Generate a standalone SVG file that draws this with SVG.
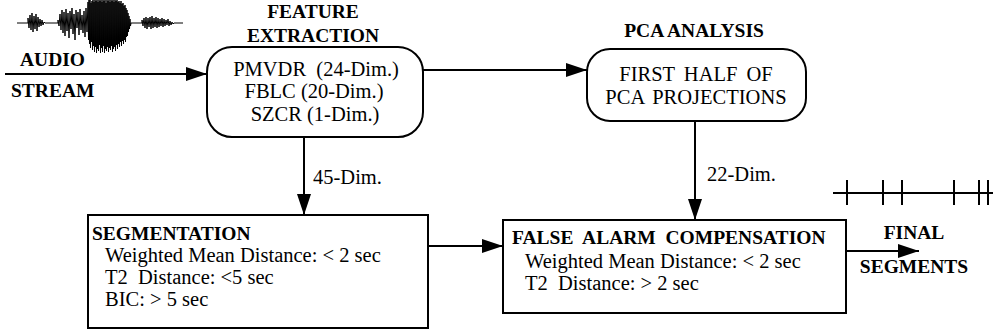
<svg xmlns="http://www.w3.org/2000/svg" width="993" height="334" viewBox="0 0 993 334">
<style>
.reg{font-family:"Liberation Serif","Times New Roman",serif;font-size:20.5px;fill:#000}
.bld{font-family:"Liberation Serif","Times New Roman",serif;font-size:19.5px;font-weight:bold;fill:#000}
.box{fill:#fff;stroke:#000;stroke-width:2}
.ln{fill:none;stroke:#000;stroke-width:2}
.arr{fill:none;stroke:#000;stroke-width:2;marker-end:url(#ah)}
.pre{white-space:pre}
</style>
<defs>
<marker id="ah" markerUnits="userSpaceOnUse" markerWidth="22" markerHeight="16" refX="21" refY="8" orient="auto">
<path d="M0,1 L21,8 L0,15 z" fill="#000"/>
</marker>
</defs>
<rect width="993" height="334" fill="#fff"/>
<g id="audio">
<path fill="none" stroke="#000" stroke-width="1" d="M17,23 L28,23 L28,18 L29,28 L30,15 L31,30 L32,13 L33,32 L34,16 L35,29 L36,14 L37,31 L38,17 L39,27 L40,19 L41,26 L42,20 L43,25 L44,22 L45,23 L58,23 L58,20 L59,26 L60,14 L61,30 L62,10 L63,33 L64,12 L65,36 L66,9 L67,31 L68,13 L69,38 L70,11 L71,29 L72,8 L73,34 L74,14 L75,40 L76,10 L77,28 L78,12 L79,35 L80,9 L81,30 L82,15 L83,33 L84,11 L85,37 L86,8 L87,32 L88,2 L88.5,40 L89,0 L89.5,44 L90,0 L90.5,48 L91,3 L91.5,42 L92,1 L92.5,50 L93,0 L93.5,46 L94,2 L94.5,52 L95,0 L95.5,47 L96,1 L96.5,53 L97,0 L97.5,49 L98,2 L98.5,51 L99,0 L99.5,45 L100,1 L100.5,53 L101,0 L101.5,48 L102,2 L102.5,52 L103,0 L103.5,46 L104,1 L104.5,53 L105,0 L105.5,49 L106,3 L106.5,51 L107,0 L107.5,47 L108,1 L108.5,52 L109,0 L109.5,48 L110,2 L110.5,50 L111,0 L111.5,46 L112,1 L112.5,52 L113,0 L113.5,49 L114,2 L114.5,47 L115,0 L115.5,51 L116,1 L116.5,45 L117,0 L117.5,49 L118,2 L118.5,44 L119,1 L119.5,47 L120,3 L120.5,42 L121,1 L121.5,46 L122,4 L122.5,41 L123,3 L123.5,44 L124,6 L124.5,40 L125,5 L125.5,42 L126,8 L126.5,37 L127,10 L127.5,36 L128,13 L128.5,32 L129,16 L129.5,29 L130,19 L130.5,26 L131,23 L142,23 L142,20 L143,26 L144,18 L145,28 L146,17 L147,29 L148,18 L149,27 L150,17 L151,29 L152,16 L153,28 L154,18 L155,27 L156,17 L157,28 L158,18 L159,27 L160,19 L161,26 L162,18 L163,27 L164,19 L165,26 L166,20 L167,25 L168,19 L169,26 L170,21 L171,25 L172,22 L173,24 L174,23 L183,23"/>
<text class="bld" x="20" y="66">AUDIO</text>
<text class="bld" x="11" y="97">STREAM</text>
</g>
<g id="feature">
<text class="bld" x="313" y="18" text-anchor="middle">FEATURE</text>
<text class="bld" x="313" y="42" text-anchor="middle">EXTRACTION</text>
<rect class="box" x="207" y="47" width="216" height="90" rx="25" ry="25"/>
<text class="reg pre" x="316" y="76" text-anchor="middle">PMVDR  (24-Dim.)</text>
<text class="reg" x="314" y="98" text-anchor="middle">FBLC (20-Dim.)</text>
<text class="reg" x="315" y="121" text-anchor="middle">SZCR (1-Dim.)</text>
</g>
<g id="pca">
<text class="bld" x="694" y="37" text-anchor="middle">PCA ANALYSIS</text>
<rect class="box" x="587" y="49" width="219" height="72" rx="23" ry="23"/>
<text class="reg" x="696" y="81" text-anchor="middle" word-spacing="4">FIRST HALF OF</text>
<text class="reg" x="696" y="104" text-anchor="middle" word-spacing="3">PCA PROJECTIONS</text>
</g>
<g id="segmentation">
<rect class="box" x="88" y="215" width="340" height="113"/>
<text class="bld" x="92" y="240">SEGMENTATION</text>
<text class="reg" x="105" y="262">Weighted Mean Distance: &lt; 2 sec</text>
<text class="reg pre" x="105" y="284">T2  Distance: &lt;5 sec</text>
<text class="reg" x="105" y="306">BIC: &gt; 5 sec</text>
</g>
<g id="false-alarm">
<rect class="box" x="503" y="220" width="343" height="93"/>
<text class="bld pre" x="512" y="244">FALSE  ALARM  COMPENSATION</text>
<text class="reg" x="525" y="268">Weighted Mean Distance: &lt; 2 sec</text>
<text class="reg pre" x="525" y="290">T2  Distance: &gt; 2 sec</text>
</g>
<g id="final">
<path class="ln" d="M833,193 H993 M847,180 V205 M883,180 V205 M902,180 V205 M954,180 V205 M979,180 V205 M988,180 V205"/>
<text class="bld" x="914" y="239" text-anchor="middle">FINAL</text>
<text class="bld" x="914" y="273" text-anchor="middle">SEGMENTS</text>
</g>
<g id="connectors">
<line class="arr" x1="5" y1="74" x2="207" y2="74"/>
<line class="arr" x1="423" y1="70" x2="587" y2="70"/>
<line class="arr" x1="304" y1="137" x2="304" y2="215"/>
<line class="arr" x1="695" y1="121" x2="695" y2="220"/>
<line class="arr" x1="428" y1="246" x2="503" y2="246"/>
<line class="arr" x1="846" y1="251" x2="919" y2="251"/>
<text class="reg" x="313" y="184">45-Dim.</text>
<text class="reg" x="707" y="181">22-Dim.</text>
</g>
</svg>
